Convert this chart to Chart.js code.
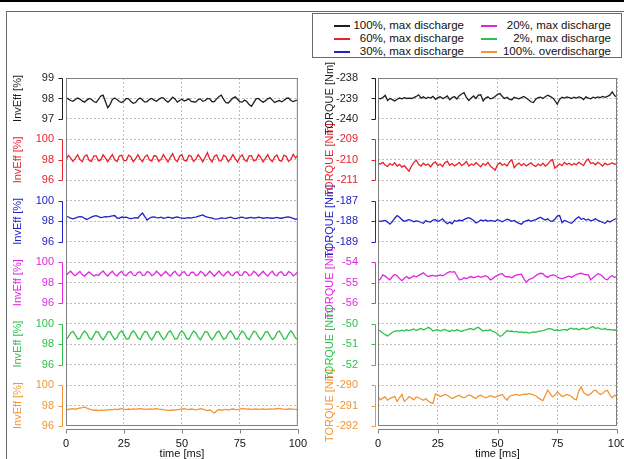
<!DOCTYPE html>
<html>
<head>
<meta charset="utf-8">
<script src="https://cdn.jsdelivr.net/npm/chart.js@4.4.1/dist/chart.umd.min.js"></script>
<style>
  html, body { margin: 0; padding: 0; background: #fff; overflow: hidden; width: 624px; height: 459px; }
  body { position: relative; font-family: "Liberation Sans", Arial, sans-serif; }
  #topRule { position: absolute; left: 0; top: 0; width: 624px; height: 2px; background: #000; }
  #frame { position: absolute; left: 6px; top: 11px; width: 700px; height: 500px; border: 1px solid #6a6a6a; }
  canvas { position: absolute; top: 0; }
  #leftChart { left: 0; }
  #rightChart { left: 312px; }
  #legend { position: absolute; left: 312px; top: 13px; width: 308px; height: 43px; border: 1px solid #6a6a6a; background: #fff; }
  .item { position: absolute; width: 130px; height: 13px; line-height: 13px; font-size: 11.5px; color: #111; }
  .item .swatch { position: absolute; left: 0; top: 6px; width: 16px; height: 2px; }
  .item .txt { position: absolute; right: 0; top: 0; white-space: nowrap; }
</style>
</head>
<body>
<div id="topRule"></div>
<div id="frame"></div>
<canvas id="leftChart" width="318" height="459"></canvas>
<canvas id="rightChart" width="328" height="459"></canvas>
<div id="legend"></div>

<script>
// time axis, 1 ms steps
var timeMs = [0,1,2,3,4,5,6,7,8,9,10,11,12,13,14,15,16,17,18,19,20,21,22,23,24,25,26,27,28,29,30,
  31,32,33,34,35,36,37,38,39,40,41,42,43,44,45,46,47,48,49,50,51,52,53,54,55,56,57,58,59,60,
  61,62,63,64,65,66,67,68,69,70,71,72,73,74,75,76,77,78,79,80,81,82,83,84,85,86,87,88,89,90,
  91,92,93,94,95,96,97,98,99,100];

var seriesNames = ["100%, max discharge", "60%, max discharge", "30%, max discharge",
                   "20%, max discharge", "2%, max discharge", "100%. overdischarge"];
var seriesColors = ["#1e1e1e", "#e8212b", "#2121c4", "#e126e1", "#2fc14c", "#f29535"];

// inverter efficiency [%]
var invEff100 = [98.03,97.98,97.90,97.86,97.95,98.02,97.97,97.88,97.82,97.92,
  98.00,97.95,97.85,97.80,97.95,98.12,98.16,97.85,97.55,97.70,
  97.95,98.02,97.95,97.85,97.80,97.88,98.00,97.98,97.85,97.76,
  97.80,97.95,98.02,97.92,97.82,97.85,97.96,98.00,97.92,97.86,
  97.95,98.03,98.03,97.90,97.82,97.92,98.06,97.98,97.82,97.90,
  97.96,97.88,97.92,97.98,97.86,97.84,97.82,97.95,97.98,97.86,
  97.90,98.00,97.98,97.84,97.85,97.98,98.10,98.16,97.95,97.80,
  97.78,97.90,98.02,98.08,97.96,97.84,97.82,97.92,97.85,97.70,
  97.62,97.80,97.98,98.00,97.90,97.82,97.88,97.98,98.03,97.92,
  97.80,97.86,97.90,97.84,97.90,98.00,98.02,97.90,97.85,97.90,
  97.92];
var invEff60 = [98.00,98.45,98.20,97.85,98.15,98.50,98.05,97.82,98.35,98.48,
  97.95,97.85,98.40,98.40,97.90,98.00,98.50,98.20,97.82,98.20,
  98.52,98.00,97.85,98.38,98.45,97.92,97.95,98.45,98.30,97.82,
  98.10,98.50,98.10,97.82,98.30,98.48,97.98,97.88,98.42,98.35,
  97.85,98.05,98.52,98.15,97.80,98.25,98.60,98.05,97.82,98.35,
  98.50,97.95,97.90,98.45,98.35,97.85,98.05,98.50,98.20,97.80,
  98.25,98.70,98.10,97.80,98.35,98.48,97.92,97.90,98.45,98.30,
  97.82,98.10,98.52,98.12,97.80,98.28,98.50,98.00,97.85,98.40,
  98.42,97.90,97.98,98.50,98.25,97.80,98.15,98.52,98.05,97.82,
  98.32,98.48,97.95,97.88,98.45,98.35,97.85,98.05,98.55,98.20,
  98.45];
var invEff30 = [98.50,98.42,98.30,98.24,98.32,98.40,98.46,98.44,98.28,98.18,
  98.30,98.40,98.50,98.55,98.45,98.36,98.40,98.45,98.44,98.48,
  98.52,98.56,98.32,98.30,98.42,98.38,98.40,98.32,98.26,98.30,
  98.36,98.30,98.60,98.80,98.45,98.12,98.30,98.40,98.42,98.36,
  98.34,98.40,98.30,98.34,98.40,98.36,98.30,98.38,98.42,98.36,
  98.32,98.28,98.34,98.36,98.32,98.38,98.40,98.48,98.55,98.62,
  98.48,98.40,98.36,98.30,98.24,98.22,98.26,98.34,98.30,98.28,
  98.36,98.40,98.32,98.26,98.32,98.38,98.40,98.34,98.30,98.36,
  98.38,98.32,98.34,98.40,98.36,98.30,98.34,98.36,98.32,98.30,
  98.34,98.38,98.32,98.30,98.36,98.40,98.42,98.36,98.28,98.20,
  98.24];
var invEff20 = [98.70,98.95,99.12,98.85,98.68,98.90,99.10,98.80,98.65,98.88,
  99.05,98.82,98.66,98.78,98.70,98.95,99.15,98.85,98.65,98.92,
  99.12,98.80,98.66,98.95,99.10,98.78,98.68,98.98,99.08,98.75,
  98.70,99.02,99.05,98.72,98.75,99.08,99.00,98.68,98.82,99.12,
  98.92,98.66,98.88,99.10,98.85,98.64,98.92,99.12,98.80,98.66,
  98.98,99.08,98.75,98.70,99.02,99.04,98.70,98.76,99.10,98.98,
  98.66,98.85,99.12,98.90,98.64,98.90,99.14,98.82,98.66,98.95,
  99.10,98.78,98.68,99.00,99.06,98.72,98.74,99.08,99.00,98.68,
  98.80,99.12,98.92,98.65,98.88,99.12,98.85,98.64,98.94,99.12,
  98.78,98.68,99.00,99.06,98.72,98.74,99.08,98.98,98.66,98.82,
  99.05];
var invEff2 = [98.45,98.70,99.10,99.25,98.90,98.50,98.55,99.00,99.28,99.05,
  98.60,98.45,98.85,99.25,99.15,98.70,98.42,98.75,99.20,99.22,
  98.80,98.45,98.62,99.10,99.28,98.95,98.50,98.52,99.00,99.30,
  99.05,98.60,98.44,98.88,99.26,99.15,98.68,98.42,98.78,99.22,
  99.20,98.78,98.44,98.66,99.12,99.30,98.92,98.48,98.55,99.02,
  99.30,99.02,98.56,98.46,98.92,99.28,99.12,98.65,98.42,98.82,
  99.24,99.18,98.74,98.44,98.70,99.15,99.26,98.86,98.46,98.60,
  99.06,99.30,98.98,98.52,98.50,98.96,99.28,99.08,98.62,98.44,
  98.86,99.26,99.14,98.70,98.44,98.76,99.20,99.22,98.80,98.45,
  98.64,99.10,99.28,98.94,98.50,98.54,99.00,99.30,99.02,98.58,
  98.48];
var invEffOver = [97.55,97.62,97.66,97.70,97.64,97.70,97.76,97.80,97.86,97.74,
  97.66,97.60,97.52,97.56,97.50,97.55,97.52,97.58,97.55,97.62,
  97.58,97.64,97.60,97.66,97.70,97.64,97.60,97.66,97.62,97.68,
  97.64,97.66,97.70,97.66,97.64,97.62,97.68,97.64,97.66,97.70,
  97.64,97.62,97.60,97.55,97.52,97.54,97.58,97.56,97.60,97.62,
  97.66,97.70,97.64,97.60,97.66,97.62,97.58,97.62,97.70,97.64,
  97.58,97.50,97.56,97.44,97.25,97.48,97.62,97.54,97.58,97.62,
  97.56,97.62,97.66,97.62,97.60,97.66,97.72,97.68,97.64,97.66,
  97.62,97.64,97.66,97.62,97.64,97.66,97.62,97.64,97.66,97.64,
  97.66,97.70,97.72,97.68,97.64,97.62,97.66,97.68,97.64,97.62,
  97.60];

// torque [Nm]
var torque100 = [-238.98,-239.02,-238.95,-238.85,-239.10,-239.00,-239.06,-239.12,-239.04,-238.98,
  -239.02,-238.96,-239.00,-238.98,-239.00,-238.96,-238.90,-238.82,-238.98,-238.92,
  -239.00,-238.94,-238.98,-238.90,-239.04,-238.96,-238.92,-239.00,-238.96,-238.88,
  -239.06,-238.96,-238.90,-239.02,-238.86,-238.78,-238.72,-238.95,-239.10,-238.98,
  -238.88,-239.00,-238.84,-238.82,-239.12,-238.98,-238.92,-239.02,-238.98,-238.90,
  -238.80,-238.76,-238.90,-239.00,-238.94,-239.04,-239.06,-238.94,-238.98,-239.02,
  -238.96,-238.90,-238.98,-239.06,-239.16,-239.20,-239.04,-238.96,-238.94,-239.00,
  -238.92,-238.84,-238.90,-238.96,-239.10,-239.28,-239.04,-238.94,-238.98,-238.92,
  -238.96,-239.00,-238.94,-238.98,-238.92,-238.96,-239.06,-238.92,-238.98,-239.02,
  -238.94,-238.98,-238.92,-238.96,-238.90,-238.94,-238.90,-238.84,-238.68,-238.86,
  -238.94];
var torque60 = [-210.15,-210.20,-210.12,-210.25,-210.32,-210.18,-210.26,-210.14,-210.30,-210.22,
  -210.35,-210.28,-210.42,-210.56,-210.30,-210.12,-210.02,-210.22,-210.30,-210.16,
  -210.26,-210.20,-210.34,-210.18,-210.10,-210.28,-210.20,-210.32,-210.14,-210.06,
  -210.26,-210.18,-210.30,-210.22,-210.12,-210.28,-210.20,-210.08,-210.30,-210.20,
  -210.26,-210.14,-210.24,-210.34,-210.18,-210.26,-210.12,-210.30,-210.40,-210.50,
  -210.24,-210.14,-210.26,-210.20,-210.30,-210.10,-210.00,-210.38,-210.24,-210.16,
  -210.28,-210.18,-210.30,-210.22,-210.14,-210.26,-210.32,-210.20,-210.28,-210.16,
  -210.30,-210.22,-210.06,-209.98,-210.40,-210.30,-210.20,-210.28,-210.12,-210.22,
  -210.16,-210.26,-210.18,-210.24,-210.12,-210.20,-210.28,-210.06,-209.96,-210.18,
  -210.14,-210.24,-210.12,-210.20,-210.30,-210.16,-210.24,-210.20,-210.14,-210.22,
  -210.18];
var torque30 = [-187.98,-188.00,-187.98,-187.96,-188.04,-188.14,-188.02,-187.85,-187.72,-187.80,
  -187.92,-188.00,-187.96,-187.92,-187.96,-188.02,-187.98,-188.00,-188.06,-188.10,
  -187.96,-188.02,-188.04,-187.94,-187.92,-188.00,-187.96,-187.88,-188.02,-188.12,
  -188.04,-188.12,-187.96,-188.00,-187.94,-187.98,-187.92,-187.86,-187.82,-187.88,
  -187.96,-188.08,-188.02,-187.94,-187.98,-187.94,-188.00,-187.96,-187.98,-188.00,
  -187.92,-187.96,-188.02,-187.96,-187.90,-187.94,-188.00,-187.96,-188.04,-188.10,
  -188.14,-188.02,-187.98,-187.94,-188.00,-187.96,-187.92,-187.86,-187.80,-187.88,
  -187.94,-187.88,-187.98,-188.00,-187.90,-187.75,-187.72,-188.06,-187.96,-188.00,
  -188.06,-188.10,-187.98,-187.86,-187.78,-187.90,-187.86,-187.94,-187.90,-187.98,
  -187.94,-187.88,-187.96,-188.00,-188.06,-188.10,-187.98,-188.04,-187.96,-187.90,
  -187.86];
var torque20 = [-54.90,-54.82,-54.62,-54.68,-54.78,-54.86,-54.70,-54.60,-54.66,-54.80,
  -54.90,-54.78,-54.70,-54.80,-54.74,-54.66,-54.72,-54.64,-54.58,-54.52,
  -54.62,-54.70,-54.66,-54.64,-54.68,-54.66,-54.62,-54.66,-54.60,-54.52,
  -54.46,-54.48,-54.46,-54.66,-54.86,-54.84,-54.76,-54.80,-54.74,-54.70,
  -54.76,-54.72,-54.68,-54.74,-54.70,-54.66,-54.72,-54.86,-54.80,-54.70,
  -54.64,-54.58,-54.56,-54.68,-54.72,-54.70,-54.76,-54.68,-54.62,-54.60,
  -54.58,-54.80,-54.98,-54.86,-54.80,-54.76,-54.66,-54.58,-54.54,-54.56,
  -54.68,-54.74,-54.66,-54.62,-54.64,-54.72,-54.78,-54.80,-54.76,-54.72,
  -54.68,-54.74,-54.66,-54.60,-54.56,-54.54,-54.58,-54.60,-54.62,-54.86,
  -54.74,-54.66,-54.56,-54.60,-54.70,-54.82,-54.86,-54.72,-54.66,-54.74,
  -54.70];
var torque2 = [-50.30,-50.36,-50.46,-50.54,-50.60,-50.52,-50.42,-50.38,-50.34,-50.36,
  -50.32,-50.36,-50.30,-50.34,-50.30,-50.26,-50.34,-50.28,-50.24,-50.30,
  -50.26,-50.18,-50.24,-50.36,-50.32,-50.30,-50.36,-50.32,-50.28,-50.34,
  -50.38,-50.32,-50.36,-50.30,-50.34,-50.38,-50.32,-50.30,-50.26,-50.24,
  -50.30,-50.22,-50.18,-50.28,-50.36,-50.32,-50.34,-50.30,-50.38,-50.42,
  -50.50,-50.62,-50.58,-50.44,-50.34,-50.38,-50.36,-50.40,-50.38,-50.42,
  -50.40,-50.44,-50.42,-50.46,-50.44,-50.40,-50.42,-50.38,-50.36,-50.34,
  -50.30,-50.26,-50.24,-50.28,-50.34,-50.30,-50.34,-50.30,-50.28,-50.32,
  -50.26,-50.22,-50.28,-50.24,-50.30,-50.26,-50.22,-50.28,-50.26,-50.18,
  -50.14,-50.24,-50.20,-50.26,-50.28,-50.24,-50.30,-50.28,-50.32,-50.30,
  -50.34];
var torqueOver = [-290.55,-290.72,-290.64,-290.58,-290.74,-290.66,-290.60,-290.56,-290.80,-290.62,
  -290.46,-290.80,-290.70,-290.56,-290.64,-290.72,-290.58,-290.62,-290.68,-290.74,
  -290.66,-290.78,-290.86,-290.90,-290.44,-290.48,-290.56,-290.52,-290.46,-290.50,
  -290.58,-290.66,-290.60,-290.54,-290.50,-290.58,-290.62,-290.56,-290.48,-290.52,
  -290.60,-290.66,-290.54,-290.50,-290.56,-290.62,-290.58,-290.52,-290.56,-290.60,
  -290.54,-290.50,-290.46,-290.62,-290.74,-290.56,-290.50,-290.48,-290.46,-290.50,
  -290.48,-290.44,-290.46,-290.42,-290.44,-290.48,-290.52,-290.62,-290.70,-290.76,
  -290.50,-290.24,-290.40,-290.58,-290.50,-290.34,-290.44,-290.56,-290.52,-290.46,
  -290.50,-290.56,-290.68,-290.72,-290.30,-290.08,-290.36,-290.46,-290.50,-290.42,
  -290.30,-290.24,-290.36,-290.46,-290.40,-290.30,-290.26,-290.48,-290.62,-290.50,
  -290.54];

// y range of each row, top row first
var invEffMin  = [97, 96, 96, 96, 96, 96];
var invEffMax  = [99, 100, 100, 100, 100, 100];
var invEffStep = [1, 2, 2, 2, 2, 2];
var torqueMin  = [-240, -211, -189, -56, -52, -292];
var torqueMax  = [-238, -209, -187, -54, -50, -290];
var torqueStep = [1, 1, 1, 1, 1, 1];

var xTicks = [0, 25, 50, 75, 100];

Chart.defaults.font.family = '"Liberation Sans", Arial, sans-serif';
Chart.defaults.font.size = 11;
Chart.defaults.color = "#111";

var gridColor = "#bdbdbd";
var frameColor = "#808080";

// frame round the plot, offset axis brackets, row titles
var axisDecor = {
	id: "axisDecor",
	afterDraw: function(chart, args, opts) {
		var ctx = chart.ctx;
		var a = chart.chartArea;
		var gap = opts.gap || 4;
		ctx.save();
		ctx.lineWidth = 1;
		ctx.setLineDash([]);

		ctx.strokeStyle = frameColor;
		ctx.strokeRect(a.left + 0.5, a.top + 0.5, a.right - a.left - 1, a.bottom - a.top - 1);

		// x bracket
		var xs = chart.scales.x;
		var yb = Math.round(a.bottom + 3) + 0.5;
		ctx.beginPath();
		ctx.moveTo(Math.round(xs.getPixelForValue(xs.min)) + 0.5, yb);
		ctx.lineTo(Math.round(xs.getPixelForValue(xs.max)) + 0.5, yb);
		xs.ticks.forEach(function(t) {
			var px = Math.round(xs.getPixelForValue(t.value)) + 0.5;
			ctx.moveTo(px, yb);
			ctx.lineTo(px, yb + 4);
		});
		ctx.stroke();

		// y brackets and titles
		Object.keys(chart.scales).forEach(function(id) {
			if (id.indexOf("row") !== 0) return;
			var s = chart.scales[id];
			var color = s.options.ticks.color;
			var xb = Math.round(a.left - gap) + 0.5;
			ctx.strokeStyle = color;
			ctx.beginPath();
			ctx.moveTo(xb, Math.round(s.getPixelForValue(s.max)) + 0.5);
			ctx.lineTo(xb, Math.round(s.getPixelForValue(s.min)) + 0.5);
			s.ticks.forEach(function(t) {
				var py = Math.round(s.getPixelForValue(t.value)) + 0.5;
				ctx.moveTo(xb - 4, py);
				ctx.lineTo(xb, py);
			});
			ctx.stroke();

			ctx.save();
			ctx.fillStyle = color;
			ctx.font = '11px "Liberation Sans", Arial, sans-serif';
			ctx.translate(s.left + 18, (s.top + s.bottom) / 2);
			ctx.rotate(-Math.PI / 2);
			ctx.textAlign = "center";
			ctx.textBaseline = "middle";
			ctx.fillText(s.options.title.text, 0, 0);
			ctx.restore();
		});
		ctx.restore();
	}
};

function makeChart(canvasId, valuesList, mins, maxs, steps, yTitle, labelPad, padRight, gap) {
	var scales = {
		x: {
			type: "linear",
			min: 0,
			max: 100,
			afterBuildTicks: function(s) { s.ticks = xTicks.map(function(v) { return {value: v}; }); },
			ticks: {padding: 11, maxRotation: 0, color: "#111"},
			grid: {color: gridColor, drawTicks: false},
			border: {display: false, dash: [2, 2]},
			title: {display: true, text: "time [ms]", color: "#111", font: {size: 11, lineHeight: 1}, padding: {top: 0, bottom: 0}},
			afterFit: function(s) { s.height = 33; }
		}
	};

	// stacked left axes, defined bottom row first (layout puts the last one on top)
	for (var r = valuesList.length - 1; r >= 0; r--) {
		scales["row" + r] = {
			type: "linear",
			position: "left",
			stack: "rows",
			stackWeight: 2,
			min: mins[r],
			max: maxs[r],
			ticks: {stepSize: steps[r], color: seriesColors[r], padding: labelPad, autoSkip: false, includeBounds: false},
			grid: {color: gridColor, drawTicks: false},
			border: {display: false, dash: [2, 2]},
			title: {display: false, text: yTitle, color: seriesColors[r]},
			afterFit: function(s) { s.width = 66; }
		};
		if (r > 0) {
			scales["gap" + r] = {
				type: "linear", position: "left", stack: "rows", stackWeight: 1,
				display: false, min: 0, max: 1
			};
		}
	}

	var datasets = [];
	for (var i = 0; i < valuesList.length; i++) {
		datasets.push({
			label: seriesNames[i],
			data: valuesList[i],
			yAxisID: "row" + i,
			borderColor: seriesColors[i],
			borderWidth: 1.3,
			pointRadius: 0,
			fill: false,
			tension: 0
		});
	}

	return new Chart(document.getElementById(canvasId), {
		type: "line",
		data: {labels: timeMs, datasets: datasets},
		options: {
			responsive: false,
			animation: false,
			devicePixelRatio: 1,
			layout: {padding: {top: 78, right: padRight, bottom: 0, left: 0}},
			plugins: {
				legend: {display: false},
				tooltip: {enabled: false},
				axisDecor: {gap: gap}
			},
			scales: scales
		},
		plugins: [axisDecor]
	});
}

makeChart("leftChart", [invEff100, invEff60, invEff30, invEff20, invEff2, invEffOver],
	invEffMin, invEffMax, invEffStep, "InvEff [%]", 12, 12, 4);
makeChart("rightChart", [torque100, torque60, torque30, torque20, torque2, torqueOver],
	torqueMin, torqueMax, torqueStep, "TORQUE [Nm]", 20, 23, 3);

// legend, two columns
var legendColLeft = [334, 481];
var legend = document.getElementById("legend");
seriesNames.forEach(function(name, i) {
	var item = document.createElement("div");
	item.className = "item";
	item.style.left = (legendColLeft[Math.floor(i / 3)] - 313) + "px";
	item.style.top = (5 + (i % 3) * 13) + "px";
	item.innerHTML = '<span class="swatch" style="background:' + seriesColors[i] + '"></span><span class="txt">' + name + '</span>';
	legend.appendChild(item);
});
</script>
</body>
</html>
